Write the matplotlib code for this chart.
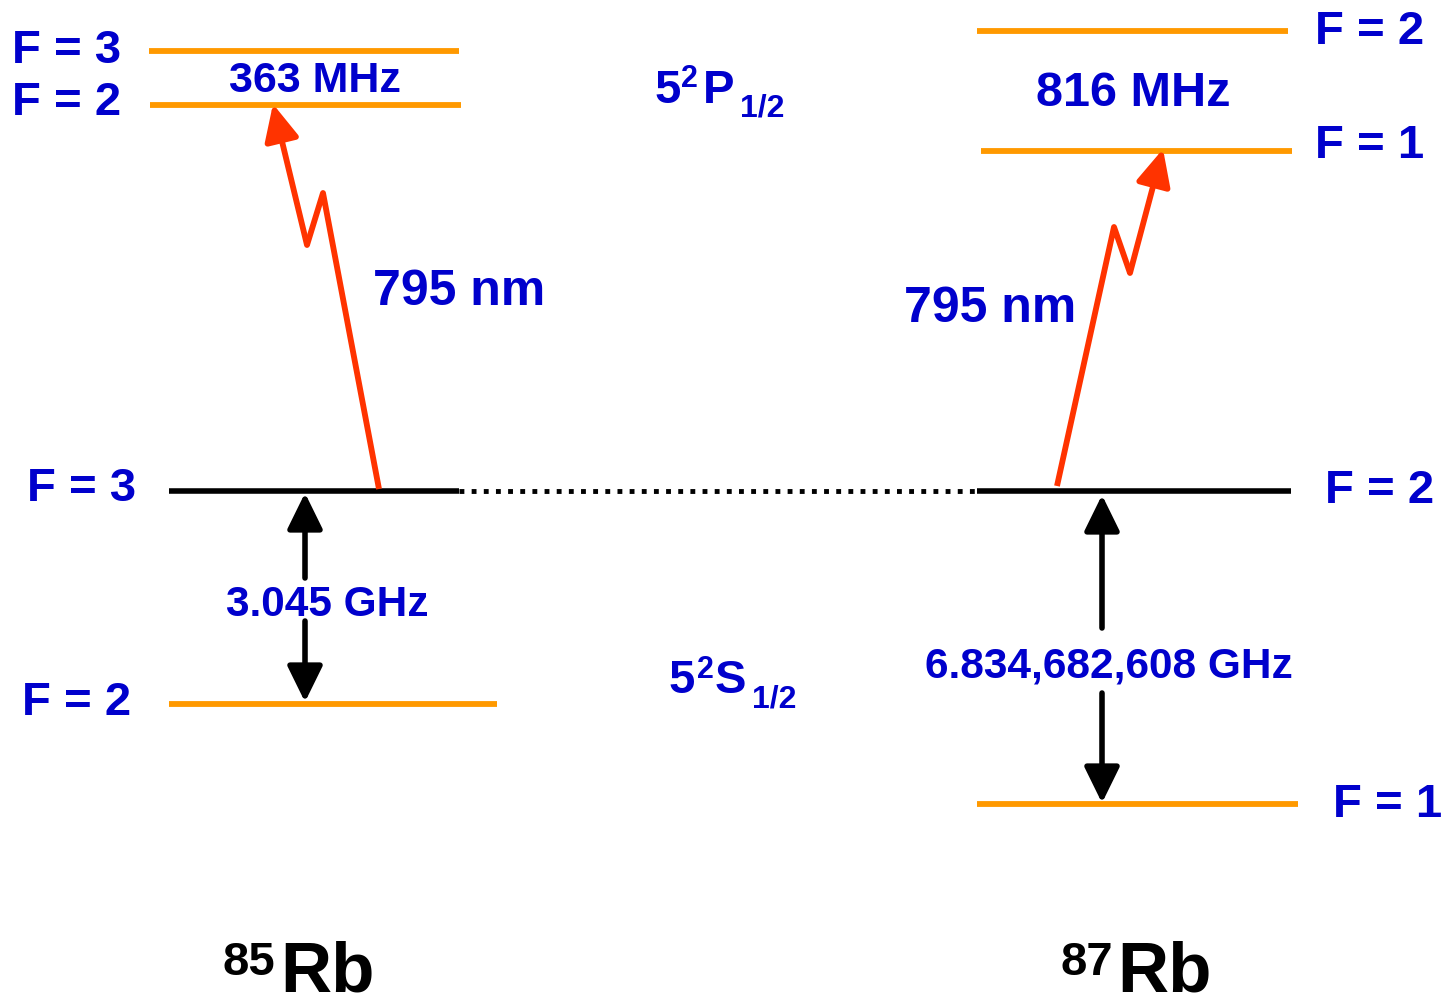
import matplotlib
matplotlib.use("Agg")
import matplotlib.pyplot as plt

# hyperfine levels (orange), pixel-like diagram coordinates
hf_x0 = [149, 150, 169, 977, 981, 977]
hf_x1 = [459, 461, 497, 1288, 1292, 1298]
hf_y = [51, 105, 704, 31, 151, 804]

# upper ground levels (black) joined by a dotted line
ref_x0 = [169, 977]
ref_x1 = [459, 1291]
ref_y = [491, 491]

# F labels
f_text = ["F = 3", "F = 2", "F = 3", "F = 2", "F = 2", "F = 1", "F = 2", "F = 1"]
f_x = [67, 67, 82, 77, 1370, 1370, 1380, 1388]
f_y = [63, 115, 501, 715, 44, 158, 503, 817]

# 795 nm transitions (zig-zag paths, last segment carries the head)
tr85_x = [379, 323, 307, 273]
tr85_y = [489, 193, 245, 104]
tr87_x = [1057, 1114, 1130, 1163]
tr87_y = [486, 227, 273, 149]

# ground splitting arrows: x, top level, bottom level, text gap top/bottom
split_x = [305, 1102]
split_top = [493, 495]
split_bot = [702, 803]
gap_top = [578, 628]
gap_bot = [621, 693]

blue = "#0000CC"
orange = "#FF9900"
red = "#FF3300"

plt.rcParams['font.family'] = ['Liberation Sans', 'DejaVu Sans']
plt.rcParams['font.weight'] = 'bold'

fig = plt.figure(figsize=(14.46, 10.06), dpi=100)
ax = fig.add_axes([0, 0, 1, 1])
ax.set_xlim(0, 1446)
ax.set_ylim(1006, 0)
ax.axis('off')

ax.hlines(hf_y, hf_x0, hf_x1, color=orange, lw=4.2)
ax.hlines(ref_y, ref_x0, ref_x1, color='black', lw=4.0)
ax.plot([ref_x1[0], ref_x0[1]], [ref_y[0], ref_y[1]], color='black', lw=3.5,
        dashes=(1, 1.5), dash_capstyle='butt')

for xs, ys in [(tr85_x, tr85_y), (tr87_x, tr87_y)]:
    ax.plot(xs[:-1], ys[:-1], color=red, lw=4.2, solid_joinstyle='round',
            solid_capstyle='butt', zorder=3)
    ax.annotate("", xy=(xs[-1], ys[-1]), xytext=(xs[-2], ys[-2]),
                arrowprops=dict(arrowstyle="-|>,head_length=22,head_width=10.5",
                                mutation_scale=1, color=red, lw=4.2,
                                shrinkA=0, shrinkB=0, joinstyle='round'),
                zorder=3)

for x, t, b, gt, gb in zip(split_x, split_top, split_bot, gap_top, gap_bot):
    for start, end in [(gt, t), (gb, b)]:
        ax.annotate("", xy=(x, end), xytext=(x, start),
                    arrowprops=dict(arrowstyle="-|>,head_length=22,head_width=10.8",
                                    mutation_scale=1, color='black', lw=4.0,
                                    shrinkA=0, shrinkB=0), zorder=3)

for t, x, y in zip(f_text, f_x, f_y):
    ax.text(x, y, t, color=blue, fontsize=34, ha='center', va='baseline')

ax.text(315, 92, "363 MHz", color=blue, fontsize=31, ha='center', va='baseline')
ax.text(1133, 106, "816 MHz", color=blue, fontsize=35, ha='center', va='baseline')
ax.text(459, 305, "795 nm", color=blue, fontsize=36, ha='center', va='baseline')
ax.text(990, 322, "795 nm", color=blue, fontsize=36, ha='center', va='baseline')
ax.text(327, 616, "3.045 GHz", color=blue, fontsize=30.5, ha='center', va='baseline')
ax.text(1109, 678, "6.834,682,608 GHz", color=blue, fontsize=30.5, ha='center', va='baseline')

# term symbols
ax.text(654, 103, "5", color=blue, fontsize=34, ha='left', va='baseline')
ax.text(681, 87, "2", color=blue, fontsize=22, ha='left', va='baseline')
ax.text(703, 103, "P", color=blue, fontsize=34, ha='left', va='baseline')
ax.text(740, 116, "1/2", color=blue, fontsize=23, ha='left', va='baseline')

ax.text(669, 693, "5", color=blue, fontsize=34, ha='left', va='baseline')
ax.text(697, 678, "2", color=blue, fontsize=22, ha='left', va='baseline')
ax.text(715, 693, "S", color=blue, fontsize=34, ha='left', va='baseline')
ax.text(752, 708, "1/2", color=blue, fontsize=23, ha='left', va='baseline')

# isotope labels
ax.text(222, 975, "85", color='black', fontsize=34, ha='left', va='baseline')
ax.text(280, 991, "Rb", color='black', fontsize=51, ha='left', va='baseline')
ax.text(1060, 975, "87", color='black', fontsize=34, ha='left', va='baseline')
ax.text(1117, 991, "Rb", color='black', fontsize=51, ha='left', va='baseline')

fig.savefig("out.png", dpi=100, facecolor='white')
